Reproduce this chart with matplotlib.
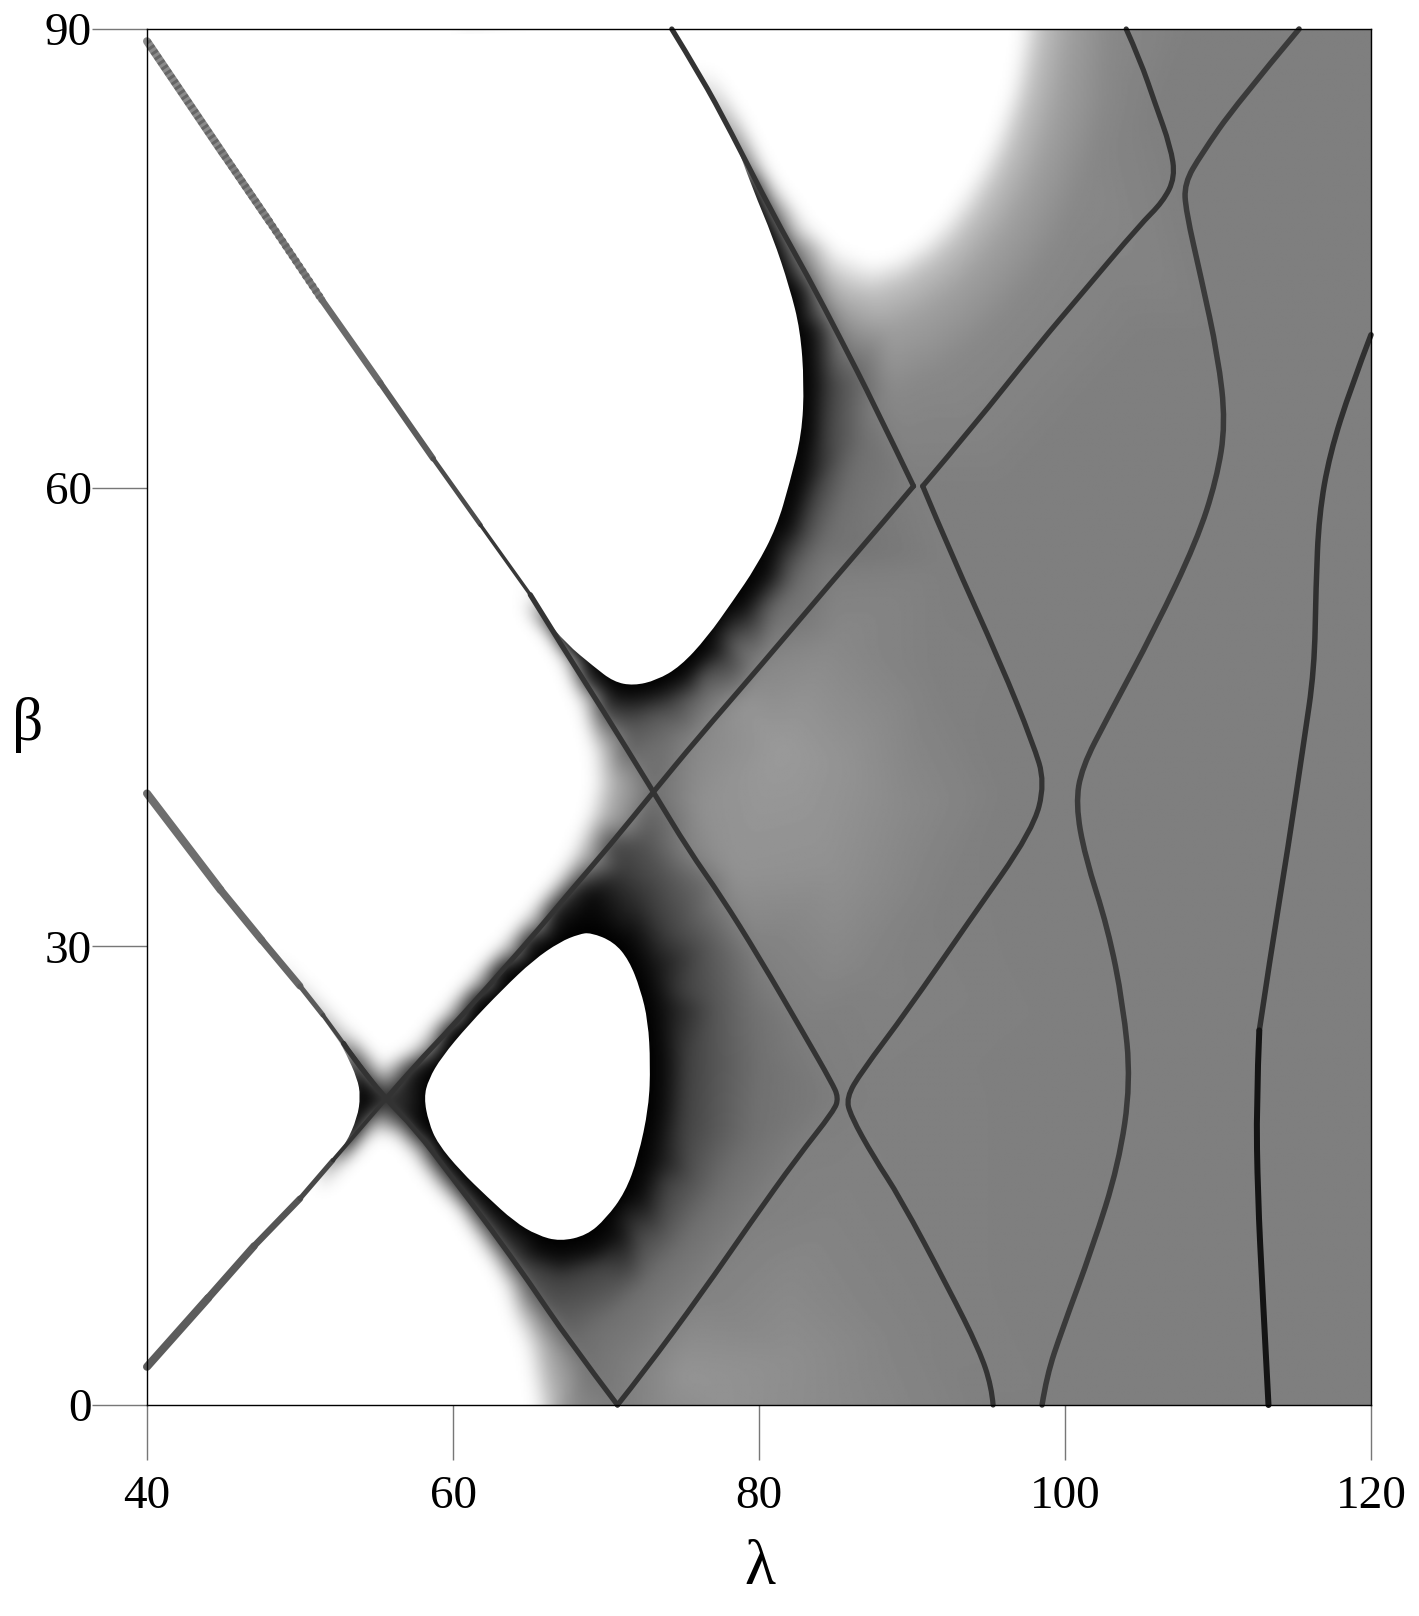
import numpy as np
import matplotlib
matplotlib.use("Agg")
import matplotlib.pyplot as plt
import matplotlib.tri as mtri
from matplotlib.path import Path
from matplotlib.patches import PathPatch

plt.rcParams['font.family'] = ['Liberation Serif', 'DejaVu Serif']

x_ticks = [40, 60, 80, 100, 120]
y_ticks = [0, 30, 60, 90]

# curves (lambda, beta)
curve1a_x = [65.05, 67.4, 69.7, 73.1, 75.4, 77.5, 80, 83, 84.75, 85.2, 84.9, 82.5, 79.5, 76.25, 72.5, 70.75]
curve1a_y = [53.0, 49.2, 45.6, 40.1, 36.3, 33.3, 29.3, 24.15, 21.1, 20.1, 19.24, 16.2, 12, 7.3, 2.2, 0]
curve1b_x = [70.75, 67.5, 65, 62.5, 60, 57.5, 55.6, 53.25, 52.85]
curve1b_y = [0, 4.3, 8, 11.5, 14.8, 18.1, 20, 23, 23.65]
curve2_x = [55.6, 57.5, 59.9, 64.8, 66.5, 67.75, 70.25, 73.1, 75.9, 80.06, 84.85, 88, 90.1]
curve2_y = [20, 22.2, 24.7, 30.2, 32.2, 33.7, 36.6, 40.1, 43.5, 48.3, 53.95, 57.6, 60.1]
curve2b_x = [90.1, 87.5, 85.3, 83.2, 80.9, 78.1, 76.2, 74.3]
curve2b_y = [60.1, 65.5, 69.8, 73.8, 77.9, 83.4, 86.9, 90]
curve3a_x = [104, 104.9, 105.9, 106.9, 107.2, 106.4, 104.9, 101.1, 98.3, 94, 90.7]
curve3a_y = [90, 88, 85.1, 82.3, 80.3, 78.7, 77.2, 72.7, 69.4, 64, 60.1]
curve3b_x = [90.7, 92.5, 95.8, 97.9, 98.7, 97.9, 93.7, 89.7, 86.7, 85.7, 86, 87.5, 89.2, 92.4, 94.4, 95.2, 95.3]
curve3b_y = [60.1, 55.8, 48.5, 43.3, 40.7, 37.6, 31.6, 25.8, 21.8, 20.1, 18.9, 16.2, 13.6, 7.6, 3.6, 1.2, 0]
curve4_x = [115.3, 111.2, 108.9, 107.8, 107.9, 108.9, 110, 110.5, 109.9, 108.6, 105.9, 102.8, 101.1, 100.7, 101.3,
            102.8, 103.8, 104.3, 103.5, 101.8, 99.8, 98.8, 98.5]
curve4_y = [90, 85.1, 81.8, 79.9, 78.1, 73.7, 68.6, 64.2, 60.5, 56.5, 50.8, 45, 41.7, 39.3, 35.9,
            31.2, 26.2, 21.1, 15.7, 10.3, 4.9, 1.9, 0]
curve5_x = [120, 118.7, 117.3, 116.6, 116.4, 116.3, 115.6, 114.6, 113.4, 112.7]
curve5_y = [70, 66.6, 62.2, 58.2, 53.5, 48.1, 43.3, 36.6, 29.2, 24.5]
curve5b_x = [112.7, 112.5, 112.6, 112.9, 113.3]
curve5b_y = [24.5, 19.8, 13.7, 7.6, 0]

# left ends, where the line gets wider and paler
end_a_x = [40, 45, 48, 51.44, 55.25, 58.7, 61.8, 65.05]
end_a_y = [89.2, 81.8, 77.4, 72.27, 66.85, 61.9, 57.55, 53.0]
end_b_x = [40, 44.8, 47.5, 50, 51.5, 52.85, 55.6]
end_b_y = [40, 33.7, 30.4, 27.4, 25.5, 23.65, 20]
end_c_x = [40, 44, 47, 50, 52.15, 55.6]
end_c_y = [2.5, 7, 10.4, 13.5, 16, 20]

# white areas with a hard edge
lobe_top_x = [74.3, 76.2, 78.1, 79.6, 80.9, 82, 82.7, 82.95, 82.8, 82, 81.15, 79.8, 78.3, 76.6, 74.85, 73.3,
              71.8, 70.5, 69.2, 67.4, 65.9, 64.8, 63.07, 40]
lobe_top_y = [90, 87, 83.6, 79.5, 76.4, 73.1, 70.3, 66.8, 63.5, 60.3, 57.4, 54.8, 52.6, 50.2, 48.3, 47.4,
              47.05, 47.3, 48.3, 49.8, 51.6, 53.1, 55.9, 89.2]
lobe_low_x = [69, 70.5, 71.5, 72.25, 72.75, 72.9, 72.8, 72.1, 71.25, 70, 68.75, 67, 65.5, 64, 62.25, 60.5, 59,
              58.4, 58.1, 58.4, 59.25, 61, 63.25, 65.25, 67, 68.25]
lobe_low_y = [30.9, 30.3, 29.1, 27.2, 25.1, 22.3, 19.5, 16.2, 13.9, 12.2, 11.1, 10.7, 11.1, 12, 13.6, 15.3, 17.1,
              18.5, 20.1, 21.3, 22.75, 24.85, 27.2, 29.1, 30.3, 30.8]
wedge_x = [40, 50, 52.5, 53, 53.75, 53.95, 53.75, 53, 52, 50, 40]
wedge_y = [40, 27.3, 23.9, 23, 21.35, 20.2, 18.8, 17.1, 15.7, 13.5, 2.5]

# grey level samples (lambda, beta, grey 0-255)
grey_corners = [(40, 0, 255), (40, 90, 255), (120, 0, 127), (120, 90, 127), (55, 0, 255), (60, 90, 255),
                (45, 0, 255), (47, 5, 255), (50, 10.5, 255), (51.3, 13.8, 255)]
grey_white_top = [(74.8, 90, 255), (76.9, 87.3, 255), (78.9, 84.1, 255), (80.5, 80.8, 255), (82.7, 77.9, 255),
                  (84.8, 75.8, 255), (87.5, 74.7, 255), (89, 75.1, 255), (90.7, 76.2, 255), (92, 77.5, 255),
                  (93.1, 79, 255), (94.2, 80.7, 255), (95.1, 82.5, 255), (95.8, 84.2, 255), (96.4, 86, 255),
                  (96.8, 88, 255), (97.1, 90, 255), (85, 85, 255)]
grey_top_c0 = [(98.45, 90, 192), (98.1, 88, 192), (97.7, 86, 192), (97.1, 84, 192), (96.4, 81.9, 192),
               (95.5, 80, 192), (94.4, 78.1, 192), (93, 76.2, 192), (91.4, 74.7, 192), (89.4, 73.4, 192),
               (87.45, 72.7, 192), (85.8, 73.1, 192), (84.4, 74.2, 192), (82.4, 76.6, 192)]
grey_top_a0 = [(100.3, 90, 160), (100, 88, 160), (99.65, 85.8, 160), (99.1, 83.6, 160), (98.35, 81.4, 160),
               (97.4, 79.2, 160), (96.2, 77.1, 160), (94.6, 75, 160), (92.9, 73.1, 160), (90.6, 71.4, 160),
               (88.5, 70.5, 160), (87, 70.7, 160), (85.7, 71.4, 160), (84.8, 72.3, 160)]
grey_top_88 = [(103.1, 90, 136), (102.9, 87.5, 136), (102.7, 85.1, 136), (102.1, 82.8, 136), (101.4, 80.6, 136),
               (100.5, 78.2, 136), (99.4, 75.8, 136), (97.9, 73.5, 136), (96.2, 71.4, 136), (94, 69.2, 136),
               (91.8, 67.5, 136), (88.5, 65.9, 136)]
grey_rest = [(100, 0, 127), (110, 0, 127), (110, 30, 127), (120, 30, 127), (100, 25, 127), (100, 50, 127),
             (110, 50, 127), (120, 60, 127), (110, 70, 127), (105, 70, 127), (112, 90, 127), (108, 90, 127),
             (106, 85, 127), (96, 60, 127), (92, 55, 127), (92, 33, 128), (96, 40, 127), (88, 20, 128), (95, 0, 127)]
grey_diamond = [(81.5, 43, 154), (76.1, 39.1, 144), (78.3, 34.8, 146), (84.9, 34.8, 144), (89.2, 39.1, 138),
                (91.4, 47.8, 128), (84.85, 50, 136), (79, 46, 148), (85, 42, 148), (85, 29.3, 136), (88, 28, 130)]
grey_bottom = [(75, 2, 148), (78, 0, 146), (74, 0, 140), (82, 3, 142), (85, 0, 138), (82, 8, 136), (85, 13, 130),
               (90, 5, 130), (90, 15, 128)]
grey_lobe_top_edge = [(79.6, 79.5, 0), (80.9, 76.4, 0), (82, 73.1, 0), (82.7, 70.3, 0), (82.95, 66.8, 0),
                      (82.8, 63.5, 0), (82, 60.3, 0), (81.15, 57.4, 0), (79.8, 54.8, 0), (78.3, 52.6, 0),
                      (76.6, 50.2, 0), (74.85, 48.3, 0), (73.3, 47.4, 0), (71.8, 47.05, 0), (70.5, 47.3, 0),
                      (69.2, 48.3, 0), (67.4, 49.8, 0)]
grey_lobe_top_10 = [(83.7, 66.8, 16), (83.5, 70.5, 16), (82.6, 73.2, 16), (83.6, 63.3, 16), (83, 60.3, 16),
                    (82.1, 57.4, 16), (80.7, 54.3, 16), (79, 52, 16), (77.3, 49.6, 16), (75.5, 47.7, 16),
                    (73.6, 46.7, 16), (71.8, 46.3, 16), (70.4, 46.5, 16)]
grey_lobe_top_40 = [(84.6, 66.8, 64), (84.3, 63.3, 64), (83.7, 60, 64), (82.8, 57, 64), (81.4, 54, 64),
                    (79.7, 51.3, 64), (78, 48.9, 64), (75.9, 47, 64), (73.8, 45.8, 64), (71.8, 45.2, 64),
                    (70.3, 45.4, 64)]
grey_lobe_top_58 = [(85.7, 66.8, 88), (85.4, 62.5, 88), (84.6, 59.8, 88), (83.4, 56.8, 88), (81.9, 54.4, 88),
                    (80.3, 52, 88), (78.2, 49.8, 88), (76, 47.5, 88), (73.5, 45.2, 88), (71.8, 44.2, 88)]
grey_lobe_top_70 = [(86.8, 63.1, 112), (85.7, 59.8, 112), (84.4, 56.6, 112), (82.7, 54, 112), (81.15, 52, 112),
                    (78.75, 49.2, 112), (76.6, 46.5, 112), (74, 43.5, 112), (72.2, 42.4, 112)]
grey_along_lines = [(79.5, 80.5, 105), (80.9, 77.9, 105), (82, 75.8, 105),
                    (83.2, 73.8, 110), (84.2, 71.8, 120), (85.3, 69.8, 125), (87.5, 65.5, 128),
                    (90.1, 60.1, 127), (84.85, 54, 128), (80.06, 48.3, 135), (75.9, 43.5, 135), (73.1, 40.1, 112),
                    (71.3, 42.8, 96), (69.7, 45.6, 72), (68.5, 47.7, 50), (66.5, 51, 30),
                    (72.5, 37, 85), (71, 35, 60), (74, 34.5, 85), (70.25, 36.6, 70), (67.75, 33.7, 50),
                    (66.5, 32.2, 35), (64.8, 30.2, 25), (63, 28.4, 18), (61.5, 26.6, 15), (59.9, 24.7, 15),
                    (57.5, 22.2, 35), (55.6, 20, 40), (54, 18.2, 40), (52.15, 16, 140), (53.25, 23, 60),
                    (52.85, 23.65, 160), (75.4, 36.3, 130), (77.5, 33.3, 128), (80, 29.3, 128), (83, 24.15, 126),
                    (85.2, 20.2, 126), (82.5, 16.2, 128), (79.5, 12, 128), (76.25, 7.3, 130), (72.5, 2.2, 132),
                    (70.75, 0, 125), (68.8, 2.4, 115), (67.5, 4.3, 105), (66.2, 6.2, 92), (65, 8, 80),
                    (63.7, 9.8, 70), (62.5, 11.5, 60), (61.2, 13.2, 50), (60, 14.8, 40), (58.8, 16.4, 30),
                    (57.5, 18.1, 20), (57, 20, 50), (57.6, 20, 20), (56.8, 21, 35), (56.7, 19, 30)]
grey_soft_left = [(64.5, 52.6, 255), (65, 51.6, 255), (66.2, 50.3, 255), (67, 49, 255), (68.3, 45.9, 255),
                  (69.1, 42.8, 255), (69.2, 40.7, 255), (68.7, 38.5, 255), (67.4, 35.6, 255), (66.1, 33.7, 255),
                  (70.1, 42.8, 176), (70.5, 40.7, 176), (70, 38.5, 176), (68.7, 36, 176), (67.3, 34.2, 176)]
grey_soft_upper = [(53.4, 24.3, 255), (55.4, 22.2, 255), (57, 23.1, 255), (58.2, 24.4, 255), (59.2, 25.5, 255),
                   (61, 27.7, 255), (63.25, 30.2, 255), (65, 32.3, 255), (52, 25.8, 255), (48, 30, 255)]
grey_soft_lower = [(53, 15.8, 255), (54.3, 17.3, 255), (55, 17.8, 255), (56.3, 17.5, 255), (57.3, 16.4, 255),
                   (58.9, 14.2, 255), (59.7, 13.4, 255), (60.5, 12.6, 255), (61.3, 11.2, 255), (62.2, 9.8, 255),
                   (62.8, 8.9, 255), (63.25, 8, 255), (64.2, 5, 255), (64.75, 3.6, 255), (65.4, 0, 255),
                   (66.4, 0, 190), (67.3, 0, 150), (68.3, 0, 135), (66, 4, 170)]
grey_lobe_low_edge = [(69, 30.9, 0), (70.5, 30.3, 0), (71.5, 29.1, 0), (72.25, 27.2, 0), (72.75, 25.1, 0),
                      (72.9, 22.3, 0), (72.8, 19.5, 0), (72.1, 16.2, 0), (71.25, 13.9, 0), (70, 12.2, 0),
                      (68.75, 11.1, 0), (67, 10.7, 0), (65.5, 11.1, 0), (64, 12, 0), (62.25, 13.6, 0),
                      (60.5, 15.3, 0), (59, 17.1, 0), (58.4, 18.5, 0), (58.1, 20.1, 0), (58.4, 21.3, 0),
                      (59.25, 22.75, 0), (61, 24.85, 0), (63.25, 27.2, 0), (65.25, 29.1, 0), (67, 30.3, 0),
                      (68.5, 32, 5), (67.5, 31.3, 6), (66.5, 30.5, 8)]
grey_lobe_low_10 = [(70, 32.5, 16), (71.8, 31, 16), (73, 28.5, 16), (73.7, 26, 16), (74, 22.3, 16), (73.9, 19.5, 16),
                    (73.3, 16, 16), (72.3, 13.4, 16), (71, 11.2, 16), (69.5, 9.9, 16), (67, 9.4, 16), (65.2, 9.9, 16)]
grey_lobe_low_40 = [(72, 33.3, 50), (74, 30.9, 64), (75, 27, 64), (75.25, 22.3, 64), (75, 18.5, 64), (74, 14.8, 64),
                    (72, 11.5, 64), (69.5, 9.2, 64), (67, 8.3, 64), (65.5, 9, 64), (69, 33.5, 10), (71, 32, 30)]
grey_lobe_low_58 = [(76.7, 30, 88), (77.3, 26, 88), (77.4, 22.3, 88), (77.1, 18, 88), (75.8, 14.5, 88),
                    (73.7, 11, 88), (71, 7.8, 88), (68.5, 6.6, 88), (66.8, 6.2, 88)]
grey_lobe_low_70 = [(76.75, 34, 112), (78.75, 29.3, 112), (79.5, 25.8, 112), (80, 22.3, 112), (79.5, 17.6, 112),
                    (77.5, 14.1, 112), (75, 10.6, 112), (72.5, 7.8, 112), (69.5, 5.2, 112), (70, 3.5, 118)]
grey_wedge_edge = [(53.95, 20.2, 0), (53.75, 21.35, 0), (53.75, 18.8, 0), (53, 17.1, 0)]

grey_groups = [grey_corners, grey_white_top, grey_top_c0, grey_top_a0, grey_top_88, grey_rest, grey_diamond,
               grey_bottom, grey_lobe_top_edge, grey_lobe_top_10, grey_lobe_top_40, grey_lobe_top_58, grey_lobe_top_70,
               grey_along_lines, grey_soft_left, grey_soft_upper, grey_soft_lower, grey_lobe_low_edge,
               grey_lobe_low_10, grey_lobe_low_40, grey_lobe_low_58, grey_lobe_low_70, grey_wedge_edge]

fig = plt.figure(figsize=(14.19, 16.16), dpi=100)
ax = fig.add_axes([147 / 1419, 1 - 1405 / 1616, 1224 / 1419, 1376 / 1616])

# grey shading through the samples, softened so the triangles do not show
samples = {}
for group in grey_groups:
    for px, py, g in group:
        samples[(px, py)] = g
pts = np.array(list(samples.keys()))
vals = np.array(list(samples.values()), dtype=float)
tri = mtri.Triangulation(pts[:, 0], pts[:, 1])
cell = 0.1
xi = np.arange(40 + cell / 2, 120, cell)
yi = np.arange(cell / 2, 90, cell)
X, Y = np.meshgrid(xi, yi)
shade = mtri.LinearTriInterpolator(tri, vals)(X, Y).filled(127.0)

sigma = 5
half = 3 * sigma
kernel = np.exp(-0.5 * (np.arange(-half, half + 1) / sigma) ** 2)
kernel /= kernel.sum()
padded = np.pad(shade, half, mode='edge')
padded = np.apply_along_axis(lambda c: np.convolve(c, kernel, mode='same'), 0, padded)
padded = np.apply_along_axis(lambda c: np.convolve(c, kernel, mode='same'), 1, padded)
shade = padded[half:-half, half:-half]

ax.imshow(shade, extent=(40, 120, 0, 90), origin='lower', cmap='gray', vmin=0, vmax=255,
          aspect='auto', interpolation='bilinear', zorder=1)


def bezier_path(xs, ys, closed=False):
    # the read points act as control points of quadratic pieces
    p = np.column_stack([xs, ys])
    if closed:
        start = (p[-1] + p[0]) / 2
        verts, codes = [start], [Path.MOVETO]
        for i in range(len(p)):
            verts += [p[i], (p[i] + p[(i + 1) % len(p)]) / 2]
            codes += [Path.CURVE3, Path.CURVE3]
        return Path(verts, codes)
    verts, codes = [p[0]], [Path.MOVETO]
    for i in range(1, len(p) - 1):
        end = p[-1] if i == len(p) - 2 else (p[i] + p[i + 1]) / 2
        verts += [p[i], end]
        codes += [Path.CURVE3, Path.CURVE3]
    return Path(verts, codes)


px_pt = 0.72


def draw_curve(xs, ys, color, width=5.2):
    ax.add_patch(PathPatch(bezier_path(xs, ys), fill=False, edgecolor=color, lw=width * px_pt,
                           capstyle='round', joinstyle='round', clip_on=False, zorder=3))


def tapered(xs, ys, widths, colors):
    for i in range(len(xs) - 1):
        ax.plot(xs[i:i + 2], ys[i:i + 2], lw=widths[i] * px_pt, color=colors[i],
                solid_capstyle='round', clip_on=False, zorder=3)


ax.add_patch(PathPatch(bezier_path(lobe_top_x, lobe_top_y), facecolor='white', edgecolor='none', zorder=2))
ax.add_patch(PathPatch(bezier_path(lobe_low_x, lobe_low_y, closed=True), facecolor='white', edgecolor='none', zorder=2))
ax.add_patch(PathPatch(bezier_path(wedge_x, wedge_y), facecolor='white', edgecolor='none', zorder=2))

tapered(end_a_x, end_a_y, [8, 7.5, 7, 6.5, 6, 4.5, 3.5],
        ['#8a8a8a', '#828282', '#787878', '#6a6a6a', '#5c5c5c', '#4c4c4c', '#383838'])
# fine hatching on the widest stretch of the upper line
ax.plot(end_a_x[:4], end_a_y[:4], lw=7.5 * px_pt, color='#666666', linestyle=(0, (0.4, 0.4)),
        dash_capstyle='butt', zorder=3)
tapered(end_b_x, end_b_y, [8, 7.5, 7, 5, 4, 3.5],
        ['#6e6e6e', '#6a6a6a', '#666666', '#5a5a5a', '#444444', '#333333'])
tapered(end_c_x, end_c_y, [8, 7.5, 6.5, 5, 4],
        ['#5c5c5c', '#5a5a5a', '#555555', '#484848', '#333333'])

draw_curve(curve1a_x, curve1a_y, '#333333')
draw_curve(curve1b_x, curve1b_y, '#333333')
draw_curve(curve2_x, curve2_y, '#333333')
draw_curve(curve2b_x, curve2b_y, '#333333')
draw_curve(curve3a_x, curve3a_y, '#333333')
draw_curve(curve3b_x, curve3b_y, '#333333')
draw_curve(curve4_x, curve4_y, '#3a3a3a', 5.5)
draw_curve(curve5_x, curve5_y, '#303030', 5.5)
draw_curve(curve5b_x, curve5b_y, '#141414', 6)

ax.set_xlim(40, 120)
ax.set_ylim(0, 90)
ax.set_xticks(x_ticks)
ax.set_yticks(y_ticks)
ax.tick_params(axis='both', length=55 * px_pt, width=1.4 * px_pt, color='#777777', labelsize=34)
ax.tick_params(axis='x', pad=11)
ax.tick_params(axis='y', pad=0)
for side in ax.spines.values():
    side.set_linewidth(1.4 * px_pt)
    side.set_color('black')
    side.set_zorder(5)

ax.set_xlabel('λ', fontsize=46)
ax.xaxis.set_label_coords(0.5008, -0.098)
ax.set_ylabel('β', fontsize=44, rotation=0, va='center', ha='center')
ax.yaxis.set_label_coords(-0.0972, 0.494)

fig.savefig('out.png', dpi=100)
